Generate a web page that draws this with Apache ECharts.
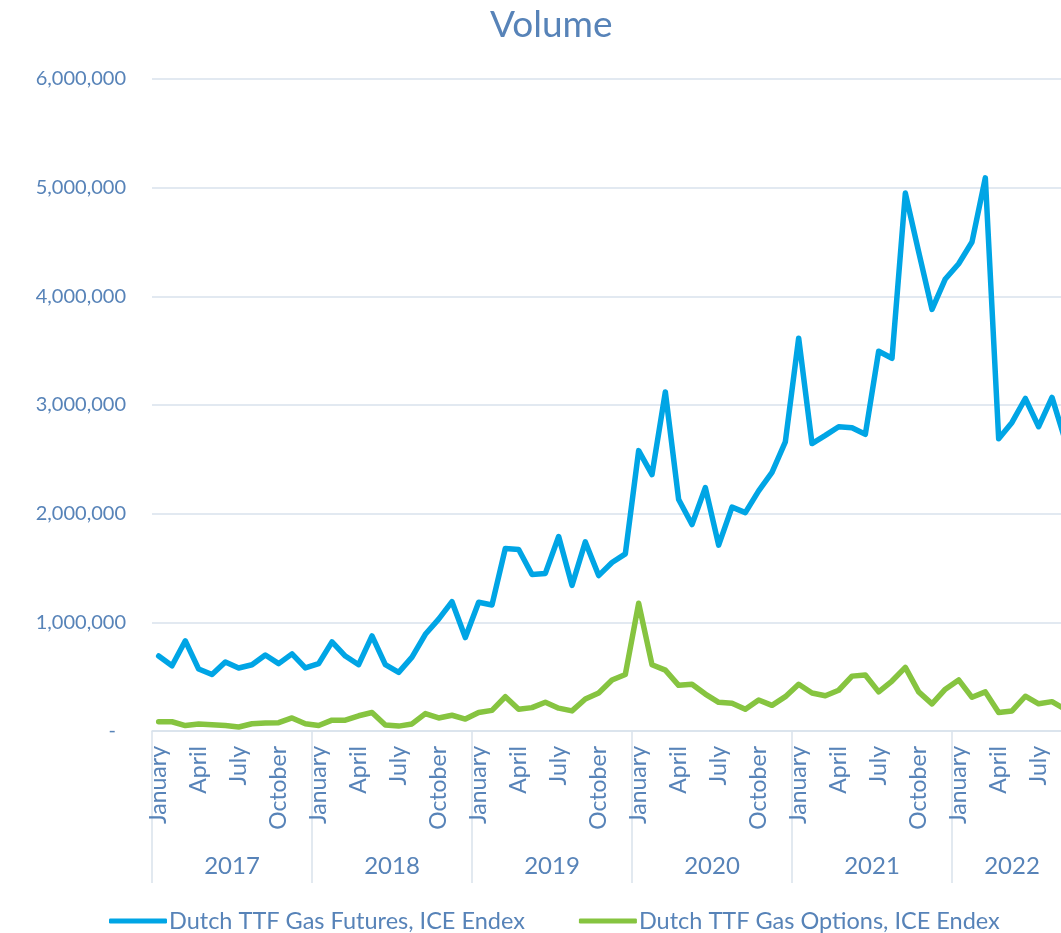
<!DOCTYPE html>
<html>
<head>
<meta charset="utf-8">
<script src="https://cdn.jsdelivr.net/npm/echarts@6/dist/echarts.min.js"></script>
<style>
  html, body { margin: 0; padding: 0; background: #fff; }
  #chart { width: 1061px; height: 933px; }
</style>
</head>
<body>
<div id="chart"></div>
<script>
const years = ["2017", "2018", "2019", "2020", "2021", "2022"];
const monthNames = ["January", "February", "March", "April", "May", "June",
  "July", "August", "September", "October", "November", "December"];
// months shown per year (2022 stops at September)
const monthsPerYear = [12, 12, 12, 12, 12, 9];

const futures = [
  690000, 600000, 830000, 570000, 520000, 635000, 580000, 610000, 700000, 620000, 710000, 580000,
  620000, 820000, 690000, 610000, 875000, 610000, 540000, 680000, 890000, 1030000, 1190000, 860000,
  1185000, 1160000, 1680000, 1670000, 1440000, 1450000, 1790000, 1340000, 1740000, 1430000, 1550000, 1630000,
  2580000, 2360000, 3120000, 2130000, 1900000, 2240000, 1710000, 2060000, 2010000, 2210000, 2380000, 2660000,
  3615000, 2645000, 2720000, 2800000, 2790000, 2730000, 3495000, 3430000, 4950000, 4410000, 3880000, 4160000,
  4300000, 4500000, 5090000, 2690000, 2840000, 3060000, 2800000, 3070000, 2670000
];
const options = [
  86000, 85000, 50000, 64000, 58000, 50000, 37000, 67000, 73000, 77000, 120000, 67000,
  50000, 100000, 100000, 140000, 170000, 55000, 45000, 65000, 160000, 120000, 145000, 110000,
  170000, 190000, 315000, 200000, 215000, 265000, 210000, 185000, 295000, 350000, 470000, 520000,
  1175000, 610000, 560000, 420000, 430000, 340000, 264000, 255000, 200000, 285000, 236000, 316000,
  430000, 350000, 325000, 375000, 505000, 515000, 360000, 460000, 585000, 360000, 250000, 385000,
  470000, 310000, 360000, 170000, 185000, 320000, 250000, 270000, 200000
];

const textColor = "#5783b8";
const gridColor = "#d9e2ec";

// month categories and the middle of each year block
const categories = [];
const yearMid = {};
years.forEach((y, i) => {
  const start = categories.length;
  for (let m = 0; m < monthsPerYear[i]; m++) categories.push(monthNames[m]);
  yearMid[(start + categories.length) / 2] = y;
});

const chart = echarts.init(document.getElementById("chart"));

const option = {
  animation: false,
  textStyle: { fontFamily: "Lato" },
  title: {
    text: "Volume",
    left: 485,
    top: 2,
    textStyle: { fontSize: 37, fontWeight: "normal", color: textColor, fontFamily: "Lato" }
  },
  legend: {
    left: 104,
    top: 904,
    icon: "roundRect",
    itemWidth: 58,
    itemHeight: 5,
    itemGap: 54,
    textStyle: { fontSize: 23.5, color: textColor, fontFamily: "Lato", padding: [0, 0, 0, -3] },
    data: ["Dutch TTF Gas Futures, ICE Endex", "Dutch TTF Gas Options, ICE Endex"]
  },
  grid: {
    left: 152,
    right: -11,
    top: 79,
    bottom: 202,
    outerBoundsMode: "none"
  },
  xAxis: [
    {
      type: "category",
      data: categories,
      axisLine: { lineStyle: { color: gridColor, width: 1.5 } },
      axisTick: {
        show: true,
        interval: (i) => i % 12 === 0,
        length: 152,
        lineStyle: { color: gridColor, width: 1.5 }
      },
      axisLabel: {
        interval: (i) => i % 3 === 0,
        rotate: 90,
        margin: 15,
        fontSize: 23,
        color: textColor,
        fontFamily: "Lato"
      },
      splitLine: { show: false }
    },
    {
      type: "value",
      position: "bottom",
      min: 0,
      max: categories.length,
      interval: 0.5,
      axisLine: { show: false },
      axisTick: { show: false },
      splitLine: { show: false },
      axisLabel: {
        margin: 123,
        fontSize: 24,
        color: textColor,
        fontFamily: "Lato",
        showMinLabel: false,
        showMaxLabel: false,
        formatter: (v) => yearMid[v] || ""
      }
    }
  ],
  yAxis: {
    type: "value",
    min: 0,
    max: 6000000,
    interval: 1000000,
    axisLine: { show: false },
    axisTick: { show: false },
    splitLine: { lineStyle: { color: gridColor, width: 1.5 } },
    axisLabel: {
      margin: 26,
      fontSize: 20,
      color: textColor,
      fontFamily: "Lato",
      formatter: (v) => v === 0 ? "{z|-}" : v.toLocaleString("en-US"),
      rich: { z: { fontSize: 20, color: textColor, padding: [0, 10, 0, 0] } }
    }
  },
  series: [
    {
      name: "Dutch TTF Gas Futures, ICE Endex",
      type: "line",
      data: futures,
      showSymbol: false,
      symbol: "none",
      color: "#00a5e5",
      lineStyle: { width: 5.5, color: "#00a5e5", cap: "round", join: "round" }
    },
    {
      name: "Dutch TTF Gas Options, ICE Endex",
      type: "line",
      data: options,
      showSymbol: false,
      symbol: "none",
      color: "#86c440",
      lineStyle: { width: 5.5, color: "#86c440", cap: "round", join: "round" }
    }
  ]
};

chart.setOption(option);
</script>
</body>
</html>
